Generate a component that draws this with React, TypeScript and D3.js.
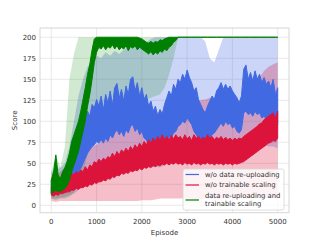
import React from 'react';
import * as d3 from 'd3';

// episodes for the noisy curves (every 50) and for the std shading (every 100)
const EPISODES = d3.range(0, 5001, 50);
const STD_EPISODES = d3.range(0, 5001, 100);

const X_TICKS = [0, 1000, 2000, 3000, 4000, 5000];
const Y_TICKS = [0, 25, 50, 75, 100, 125, 150, 175, 200];

// w/o data re-uploading (blue)
const blueLo = [
    14, 16, 15, 17, 16, 18, 18, 20, 22,
    24, 28, 34, 38, 44, 50, 56, 62, 66, 70, 72, 76,
    74, 78, 74, 80, 76, 84, 80, 86, 90, 84, 88, 82, 90, 86, 94, 96, 88, 92, 84, 88,
    80, 78, 72, 70, 66, 68, 64, 68, 66, 72, 76, 82, 80, 86, 88, 94, 96, 100, 98, 104,
    100, 96, 88, 84, 80, 76, 78, 72, 76, 80, 84, 86, 90, 94, 98, 94, 100, 96, 98, 92,
    94, 88, 86, 90, 110, 112, 108, 110, 106, 112, 108, 110, 104, 106, 102, 100, 98, 96, 90, 96,
];
const blueHi = [
    30, 34, 28, 32, 30, 34, 32, 36, 40,
    44, 52, 58, 66, 74, 90, 98, 112, 106, 120, 116, 126,
    118, 130, 114, 132, 122, 136, 120, 140, 145, 128, 138, 124, 142, 132, 150, 153, 136, 146, 130, 140,
    126, 132, 118, 124, 112, 118, 106, 114, 108, 120, 128, 136, 130, 144, 138, 150, 146, 156, 150, 161,
    152, 146, 136, 140, 126, 120, 114, 110, 118, 124, 130, 126, 136, 140, 146, 138, 144, 138, 142, 136,
    132, 128, 122, 130, 162, 167, 150, 158, 148, 160, 150, 156, 146, 152, 144, 148, 140, 150, 132, 140,
];

// w/o trainable scaling (red)
const redLo = [
    12, 11, 13, 12, 14, 14, 15, 16, 16,
    18, 18, 20, 19, 21, 21, 23, 22, 25, 24, 27, 26,
    28, 28, 30, 29, 32, 31, 34, 33, 36, 35, 38, 37, 39, 38, 41, 40, 42, 41, 44, 42,
    45, 44, 46, 45, 47, 46, 48, 47, 49, 48, 50, 48, 50, 49, 51, 49, 50, 48, 51, 49,
    50, 48, 51, 49, 50, 48, 50, 49, 51, 49, 50, 48, 50, 49, 50, 48, 50, 49, 50, 48,
    50, 49, 50, 51, 52, 54, 56, 58, 60, 62, 64, 66, 68, 70, 72, 74, 75, 77, 76, 80,
];
const redHi = [
    22, 26, 30, 33, 27, 33, 30, 35, 32,
    38, 36, 40, 38, 42, 40, 46, 42, 48, 46, 52, 50,
    55, 52, 56, 54, 58, 56, 62, 58, 64, 60, 66, 63, 68, 64, 70, 66, 72, 68, 74, 70,
    76, 72, 78, 74, 80, 76, 82, 77, 84, 78, 82, 78, 83, 79, 84, 80, 82, 78, 84, 79,
    82, 77, 84, 80, 82, 78, 81, 79, 84, 80, 82, 78, 81, 79, 82, 78, 81, 78, 80, 77,
    80, 78, 80, 79, 82, 84, 86, 88, 90, 92, 94, 97, 98, 102, 104, 106, 108, 110, 104, 112,
];

// data re-uploading and trainable scaling (green)
const greenLo = [
    14, 16, 18, 16, 17, 18, 20, 24, 30,
    40, 48, 56, 64, 76, 88, 100, 118, 132, 150, 170, 182,
    188, 186, 190, 185, 189, 187, 191, 186, 190, 185, 188, 186, 190, 184, 189, 187, 190, 185, 188, 186,
    184, 182, 180, 183, 179, 182, 180, 184, 182, 186, 184, 188, 190, 194, 196, 200, 200, 200, 200, 200,
    200, 200, 200, 200, 200, 200, 200, 200, 200, 200, 200, 200, 200, 200, 200, 200, 200, 200, 200, 200,
    200, 200, 200, 200, 200, 200, 200, 200, 200, 200, 200, 200, 200, 200, 200, 200, 200, 200, 200, 200,
];
const greenHi = [
    30, 40, 60, 36, 32, 40, 45, 52, 62,
    76, 84, 92, 100, 112, 126, 140, 156, 168, 185, 198, 200,
    200, 200, 200, 200, 200, 200, 200, 200, 200, 200, 200, 200, 200, 200, 200, 200, 200, 200, 199, 198,
    196, 194, 193, 195, 193, 195, 194, 197, 196, 198, 199, 200, 200, 200, 200, 200, 200, 200, 200, 200,
    200, 200, 200, 200, 200, 200, 200, 200, 200, 200, 200, 200, 200, 200, 200, 200, 200, 200, 200, 200,
    200, 200, 200, 200, 200, 200, 200, 200, 200, 200, 200, 200, 200, 200, 200, 200, 200, 200, 200, 200,
];

// std shading, every 100 episodes
const blueStdLo = [
    8, 8, 9, 10, 12, 14, 18, 24, 30, 35,
    40, 42, 45, 48, 50, 52, 50, 54, 56, 55,
    52, 50, 48, 46, 45, 48, 52, 58, 62, 66,
    68, 66, 62, 58, 55, 55, 56, 58, 60, 62,
    62, 60, 62, 68, 72, 74, 74, 72, 70, 70,
    68,
];
const blueStdHi = [
    40, 42, 45, 50, 70, 100, 130, 150, 165, 172,
    178, 175, 182, 178, 184, 180, 185, 188, 192, 188,
    190, 194, 198, 200, 200, 200, 200, 200, 200, 200,
    200, 200, 200, 200, 195, 175, 170, 185, 200, 200,
    200, 200, 200, 200, 200, 200, 200, 200, 200, 200,
    200,
];
const redStdLo = [
    5, 4, 5, 5, 5, 5, 5, 5, 5, 5,
    5, 5, 5, 5, 5, 5, 5, 5, 5, 5,
    6, 6, 6, 7, 8, 8, 8, 8, 8, 8,
    8, 8, 7, 7, 8, 8, 7, 7, 8, 8,
    8, 8, 8, 8, 8, 9, 9, 9, 9, 9,
    9,
];
const redStdHi = [
    30, 35, 40, 45, 50, 55, 60, 65, 68, 70,
    72, 76, 80, 84, 88, 92, 95, 98, 100, 102,
    105, 106, 108, 110, 112, 113, 115, 116, 118, 118,
    120, 122, 124, 125, 126, 128, 126, 124, 122, 120,
    120, 122, 125, 130, 138, 145, 152, 160, 165, 168,
    170,
];
const greenStdLo = [
    8, 6, 8, 8, 10, 15, 25, 40, 60, 85,
    105, 118, 125, 128, 130, 132, 128, 130, 132, 130,
    128, 126, 128, 130, 132, 140, 155, 175, 200, 200,
    200, 200, 200, 200, 200, 200, 200, 200, 200, 200,
    200, 200, 200, 200, 200, 200, 200, 200, 200, 200,
    200,
];
const greenStdHi = [
    40, 60, 45, 70, 150, 180, 200, 200, 200, 200,
    200, 200, 200, 200, 200, 200, 200, 200, 200, 200,
    200, 200, 200, 200, 200, 200, 200, 200, 200, 200,
    200, 200, 200, 200, 200, 200, 200, 200, 200, 200,
    200, 200, 200, 200, 200, 200, 200, 200, 200, 200,
    200,
];

const LEGEND = [
    { label: ['w/o data re-uploading'], color: 'royalblue' },
    { label: ['w/o trainable scaling'], color: 'crimson' },
    { label: ['data re-uploading and', 'trainable scaling'], color: 'green' },
];

const FONT = 'DejaVu Sans, sans-serif';

export default function App() {
    const x = d3.scaleLinear().domain([-250, 5250]).range([40, 289]);
    const y = d3.scaleLinear().domain([-8.8, 211]).range([212.7, 28]);

    const band = (eps: number[], lo: number[]) =>
        d3.area<number>()
            .x((_, i) => x(eps[i]))
            .y0((_, i) => y(lo[i]))
            .y1(d => y(d));

    const stds = [
        { lo: blueStdLo, hi: blueStdHi, color: 'royalblue', op: 0.28 },
        { lo: redStdLo, hi: redStdHi, color: 'crimson', op: 0.28 },
        { lo: greenStdLo, hi: greenStdHi, color: 'green', op: 0.18 },
    ];
    const curves = [
        { lo: blueLo, hi: blueHi, color: 'royalblue' },
        { lo: redLo, hi: redHi, color: 'crimson' },
        { lo: greenLo, hi: greenHi, color: 'green' },
    ];

    const [x0, x1] = x.range();
    const [yb, yt] = y.range();

    return (
        <div style={{ position: 'absolute', left: 0, top: 0 }}>
            <svg width={320} height={240} style={{ display: 'block' }} fontFamily={FONT}>
                <rect width={320} height={240} fill="white" />
                {/* grid */}
                {X_TICKS.map(t => (
                    <line key={'gx' + t} x1={x(t)} x2={x(t)} y1={yt} y2={yb} stroke="#e3e3e3" strokeWidth={0.8} />
                ))}
                {Y_TICKS.map(t => (
                    <line key={'gy' + t} x1={x0} x2={x1} y1={y(t)} y2={y(t)} stroke="#e3e3e3" strokeWidth={0.8} />
                ))}

                {stds.map((s, i) => (
                    <path key={'s' + i} d={band(STD_EPISODES, s.lo)(s.hi) || ''} fill={s.color} fillOpacity={s.op} />
                ))}
                {curves.map((c, i) => (
                    <path key={'c' + i} d={band(EPISODES, c.lo)(c.hi) || ''} fill={c.color}
                        stroke={c.color} strokeWidth={1} strokeLinejoin="miter" />
                ))}

                <rect x={x0} y={yt} width={x1 - x0} height={yb - yt} fill="none" stroke="#d6d6d6" strokeWidth={1} />

                {X_TICKS.map(t => (
                    <text key={'tx' + t} x={x(t)} y={223.5} fontSize={7} textAnchor="middle" fill="#333">{t}</text>
                ))}
                {Y_TICKS.map(t => (
                    <text key={'ty' + t} x={36} y={y(t) + 2.5} fontSize={7} textAnchor="end" fill="#333">{t}</text>
                ))}
                <text x={(x0 + x1) / 2} y={234.5} fontSize={7} textAnchor="middle" fill="#333">Episode</text>
                <text transform={`translate(17,${(yt + yb) / 2}) rotate(-90)`} fontSize={7} textAnchor="middle" fill="#333">Score</text>

                {/* legend */}
                <g>
                    <rect x={183} y={169} width={101} height={41} rx={2} fill="white" fillOpacity={0.8} stroke="#d6d6d6" strokeWidth={0.8} />
                    {LEGEND.map((l, i) => {
                        const cy = [174.5, 185, 200][i];
                        return (
                            <g key={'l' + i}>
                                <line x1={185.5} x2={199} y1={cy} y2={cy} stroke={l.color} strokeWidth={1.2} />
                                {l.label.map((s, j) => (
                                    <text key={j} x={205} y={cy + 2.3 + (l.label.length > 1 ? (j - 0.5) * 7.8 : 0)}
                                        fontSize={6.8} fill="#333">{s}</text>
                                ))}
                            </g>
                        );
                    })}
                </g>
            </svg>
        </div>
    );
}
